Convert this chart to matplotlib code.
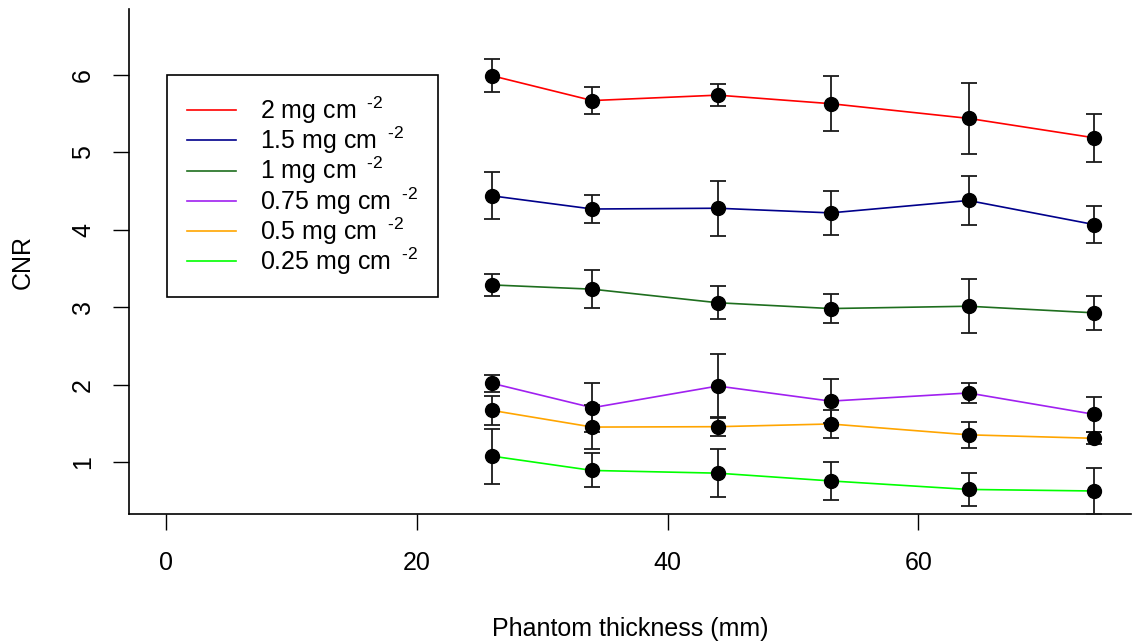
import matplotlib
matplotlib.use("Agg")
import matplotlib.pyplot as plt

plt.rcParams['font.family'] = ['Liberation Sans', 'DejaVu Sans']
plt.rcParams['mathtext.fontset'] = 'custom'
plt.rcParams['mathtext.rm'] = 'Liberation Sans'
plt.rcParams['mathtext.it'] = 'Liberation Sans:italic'
plt.rcParams['mathtext.bf'] = 'Liberation Sans:bold'

thickness = [26, 34, 44, 53, 64, 74]

labels = [r"2 mg cm $\,^{\text{-2}}$", r"1.5 mg cm $\,^{\text{-2}}$", r"1 mg cm $\,^{\text{-2}}$",
          r"0.75 mg cm $\,^{\text{-2}}$", r"0.5 mg cm $\,^{\text{-2}}$", r"0.25 mg cm $\,^{\text{-2}}$"]
colors = ["#FF0000", "#00008B", "#1E6E1E", "#A020F0", "#FFA500", "#00FF00"]

cnr_2 = [5.99, 5.67, 5.74, 5.63, 5.44, 5.19]
err_2 = [0.215, 0.175, 0.14, 0.355, 0.455, 0.31]
cnr_15 = [4.44, 4.27, 4.28, 4.22, 4.38, 4.07]
err_15 = [0.305, 0.177, 0.357, 0.285, 0.31, 0.236]
cnr_1 = [3.29, 3.235, 3.06, 2.985, 3.015, 2.93]
err_1 = [0.146, 0.249, 0.215, 0.19, 0.35, 0.22]
cnr_075 = [2.02, 1.705, 1.985, 1.79, 1.895, 1.62]
err_075 = [0.11, 0.313, 0.41, 0.28, 0.125, 0.223]
cnr_05 = [1.67, 1.455, 1.46, 1.495, 1.355, 1.31]
err_05 = [0.19, 0.28, 0.12, 0.18, 0.17, 0.075]
cnr_025 = [1.08, 0.895, 0.86, 0.76, 0.65, 0.63]
err_025 = [0.355, 0.22, 0.31, 0.24, 0.21, 0.30]

series = [(cnr_2, err_2), (cnr_15, err_15), (cnr_1, err_1),
          (cnr_075, err_075), (cnr_05, err_05), (cnr_025, err_025)]

W, H = 1136, 644
fig = plt.figure(figsize=(W / 100, H / 100), dpi=100)
ax = fig.add_axes([129 / W, 1 - 514.3 / H, (1131 - 129) / W, (514.3 - 9) / H])

FS = 18
handles = []
for (vals, errs), col, lab in zip(series, colors, labels):
    ln, = ax.plot(thickness, vals, color=col, lw=1.2, zorder=2, label=lab)
    handles.append(ln)
    ax.errorbar(thickness, vals, yerr=errs, fmt='none', ecolor='#1a1a1a',
                elinewidth=1.3, capsize=5.6, capthick=1.3, zorder=3)
    ax.plot(thickness, vals, 'o', color='black', ms=10, zorder=4, mec='black')

ax.set_xlim(-2.96, 76.96)
ax.set_ylim(0.329, 6.852)
ax.set_xticks([0, 20, 40, 60])
ax.set_yticks([1, 2, 3, 4, 5, 6])

for s in ['top', 'right']:
    ax.spines[s].set_visible(False)
for s in ['left', 'bottom']:
    ax.spines[s].set_linewidth(1.2)
    ax.spines[s].set_color('black')

ax.tick_params(axis='both', direction='out', length=11.5, width=1.0,
               labelsize=FS, colors='black')
ax.tick_params(axis='x', pad=15)
ax.tick_params(axis='y', pad=13)
for t in ax.get_yticklabels():
    t.set_rotation(90)
    t.set_va('center')

ax.set_xlabel("Phantom thickness (mm)", fontsize=FS, labelpad=30)
ax.set_ylabel("CNR", fontsize=FS, labelpad=26)

leg = ax.legend(handles=handles, loc='upper left',
                bbox_to_anchor=(0.0384, 0.87), borderaxespad=0,
                fontsize=FS, frameon=True, fancybox=False, shadow=False,
                handlelength=1.95, handletextpad=0.95, labelspacing=-0.05,
                borderpad=0.8)
fr = leg.get_frame()
fr.set_edgecolor('black')
fr.set_linewidth(1.2)
fr.set_facecolor('white')
fr.set_alpha(1)
for lh in leg.get_lines():
    lh.set_linewidth(1.2)

fig.savefig("out.png", dpi=100)
